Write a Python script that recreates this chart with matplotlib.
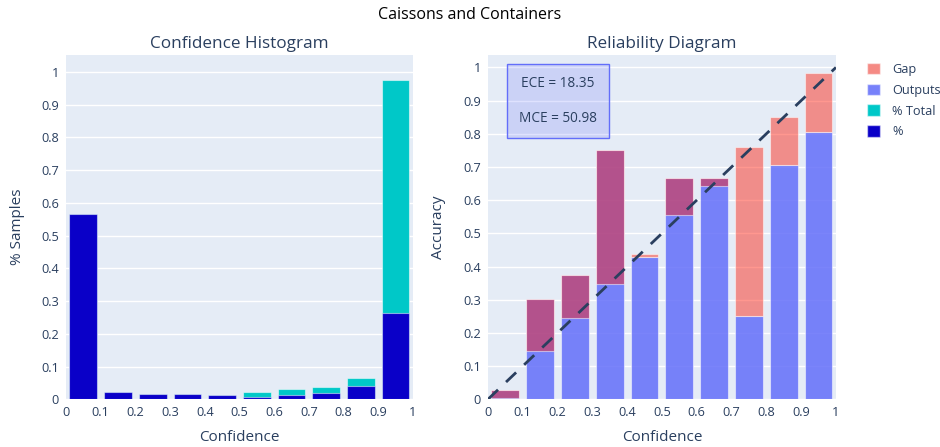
import matplotlib.pyplot as plt
import numpy as np
from matplotlib.patches import Patch
from matplotlib.ticker import FuncFormatter, MultipleLocator

# calibration bins (10 equal-width bins on [0, 1])
bin_centers = [0.05, 0.15, 0.25, 0.35, 0.45, 0.55, 0.65, 0.75, 0.85, 0.95]

# confidence histogram
pct_total = [0.566, 0.022, 0.016, 0.016, 0.013, 0.023, 0.031, 0.037, 0.065, 0.974]
pct = [0.566, 0.022, 0.016, 0.016, 0.013, 0.006, 0.012, 0.019, 0.040, 0.264]

# reliability diagram: per-bin accuracy and mean confidence
accuracy = [0.028, 0.301, 0.375, 0.751, 0.430, 0.667, 0.667, 0.250, 0.707, 0.805]
confidence = [0.005, 0.145, 0.244, 0.346, 0.439, 0.554, 0.642, 0.760, 0.852, 0.983]

ece = 18.35
mce = 50.98

TXT = "#2a3f5f"
BG = "#E5ECF6"
OUT_C = (0.388, 0.431, 0.98, 0.85)
GAP_C = (1.0, 0.1, 0.03, 0.45)
plt.rcParams["font.family"] = ["Open Sans", "DejaVu Sans"]

fig = plt.figure(figsize=(9.4, 4.47), dpi=100)
ax1 = fig.add_axes([0.0702, 0.1067, 0.3691, 0.770])
ax2 = fig.add_axes([0.5191, 0.1067, 0.3702, 0.770])

fmt = FuncFormatter(lambda v, p: "{:g}".format(round(v, 2)))
for ax in (ax1, ax2):
    ax.set_facecolor(BG)
    for s in ax.spines.values():
        s.set_visible(False)
    ax.set_xlim(0, 1)
    ax.xaxis.set_major_locator(MultipleLocator(0.1))
    ax.yaxis.set_major_locator(MultipleLocator(0.1))
    ax.xaxis.set_major_formatter(fmt)
    ax.yaxis.set_major_formatter(fmt)
    ax.grid(True, color="white", linewidth=1)
    ax.grid(False, axis="x")
    ax.set_axisbelow(True)
    ax.tick_params(length=0, labelsize=9.2, colors=TXT, pad=5)
    ax.set_xlabel("Confidence", fontsize=11, color=TXT, labelpad=8)

# histogram: total behind, per-bin share in front
edge = (1, 1, 1, 0.5)
ax1.bar(bin_centers, pct_total, width=0.08, color="#00C8C8", edgecolor=edge, linewidth=0.8)
ax1.bar(bin_centers, pct, width=0.08, color="#0A00C8", edgecolor=edge, linewidth=0.8)
ax1.set_ylim(0, 1.051)
ax1.set_ylabel("% Samples", fontsize=11, color=TXT, labelpad=12)
ax1.set_title("Confidence Histogram", fontsize=12.3, color=TXT, pad=5)

# reliability: outputs up to accuracy, gap from accuracy to confidence
acc = np.array(accuracy)
gap = np.array(confidence) - acc
ax2.bar(bin_centers, acc, width=0.08, color=OUT_C, edgecolor=edge, linewidth=0.8)
ax2.bar(bin_centers, gap, bottom=acc, width=0.08, color=GAP_C,
        edgecolor=edge, linewidth=0.8)
ax2.plot([0, 1], [0, 1], color=TXT, linestyle=(0, (5, 4)), linewidth=2)
ax2.set_ylim(0, 1.037)
ax2.set_ylabel("Accuracy", fontsize=11, color=TXT, labelpad=12)
ax2.set_title("Reliability Diagram", fontsize=12.3, color=TXT, pad=5)

ax2.text(0.201, 0.867, "ECE = {:.2f}\n\nMCE = {:.2f}".format(ece, mce),
         transform=ax2.transAxes, ha="center", va="center", fontsize=9.8, color=TXT,
         linespacing=1.2,
         bbox=dict(boxstyle="square,pad=0.9", facecolor=(0.39, 0.43, 0.98, 0.2),
                   edgecolor="#636EFA", linewidth=1))

handles = [
    Patch(facecolor="#F58A84", edgecolor=edge, label="Gap"),
    Patch(facecolor="#7781FA", edgecolor=edge, label="Outputs"),
    Patch(facecolor="#00C8C8", edgecolor=edge, label="% Total"),
    Patch(facecolor="#0A00C8", edgecolor=edge, label="%"),
]
leg = fig.legend(handles=handles, loc="upper left", bbox_to_anchor=(0.91, 0.885),
                 frameon=False, fontsize=9.2, handlelength=1.0, handleheight=1.0,
                 handletextpad=1.0, labelspacing=0.6)
for t in leg.get_texts():
    t.set_color(TXT)

fig.suptitle("Caissons and Containers", x=0.5, y=0.985, fontsize=11.5,
             color="black", fontstretch="semi-condensed")

fig.savefig("out.png", dpi=100, facecolor="white")
